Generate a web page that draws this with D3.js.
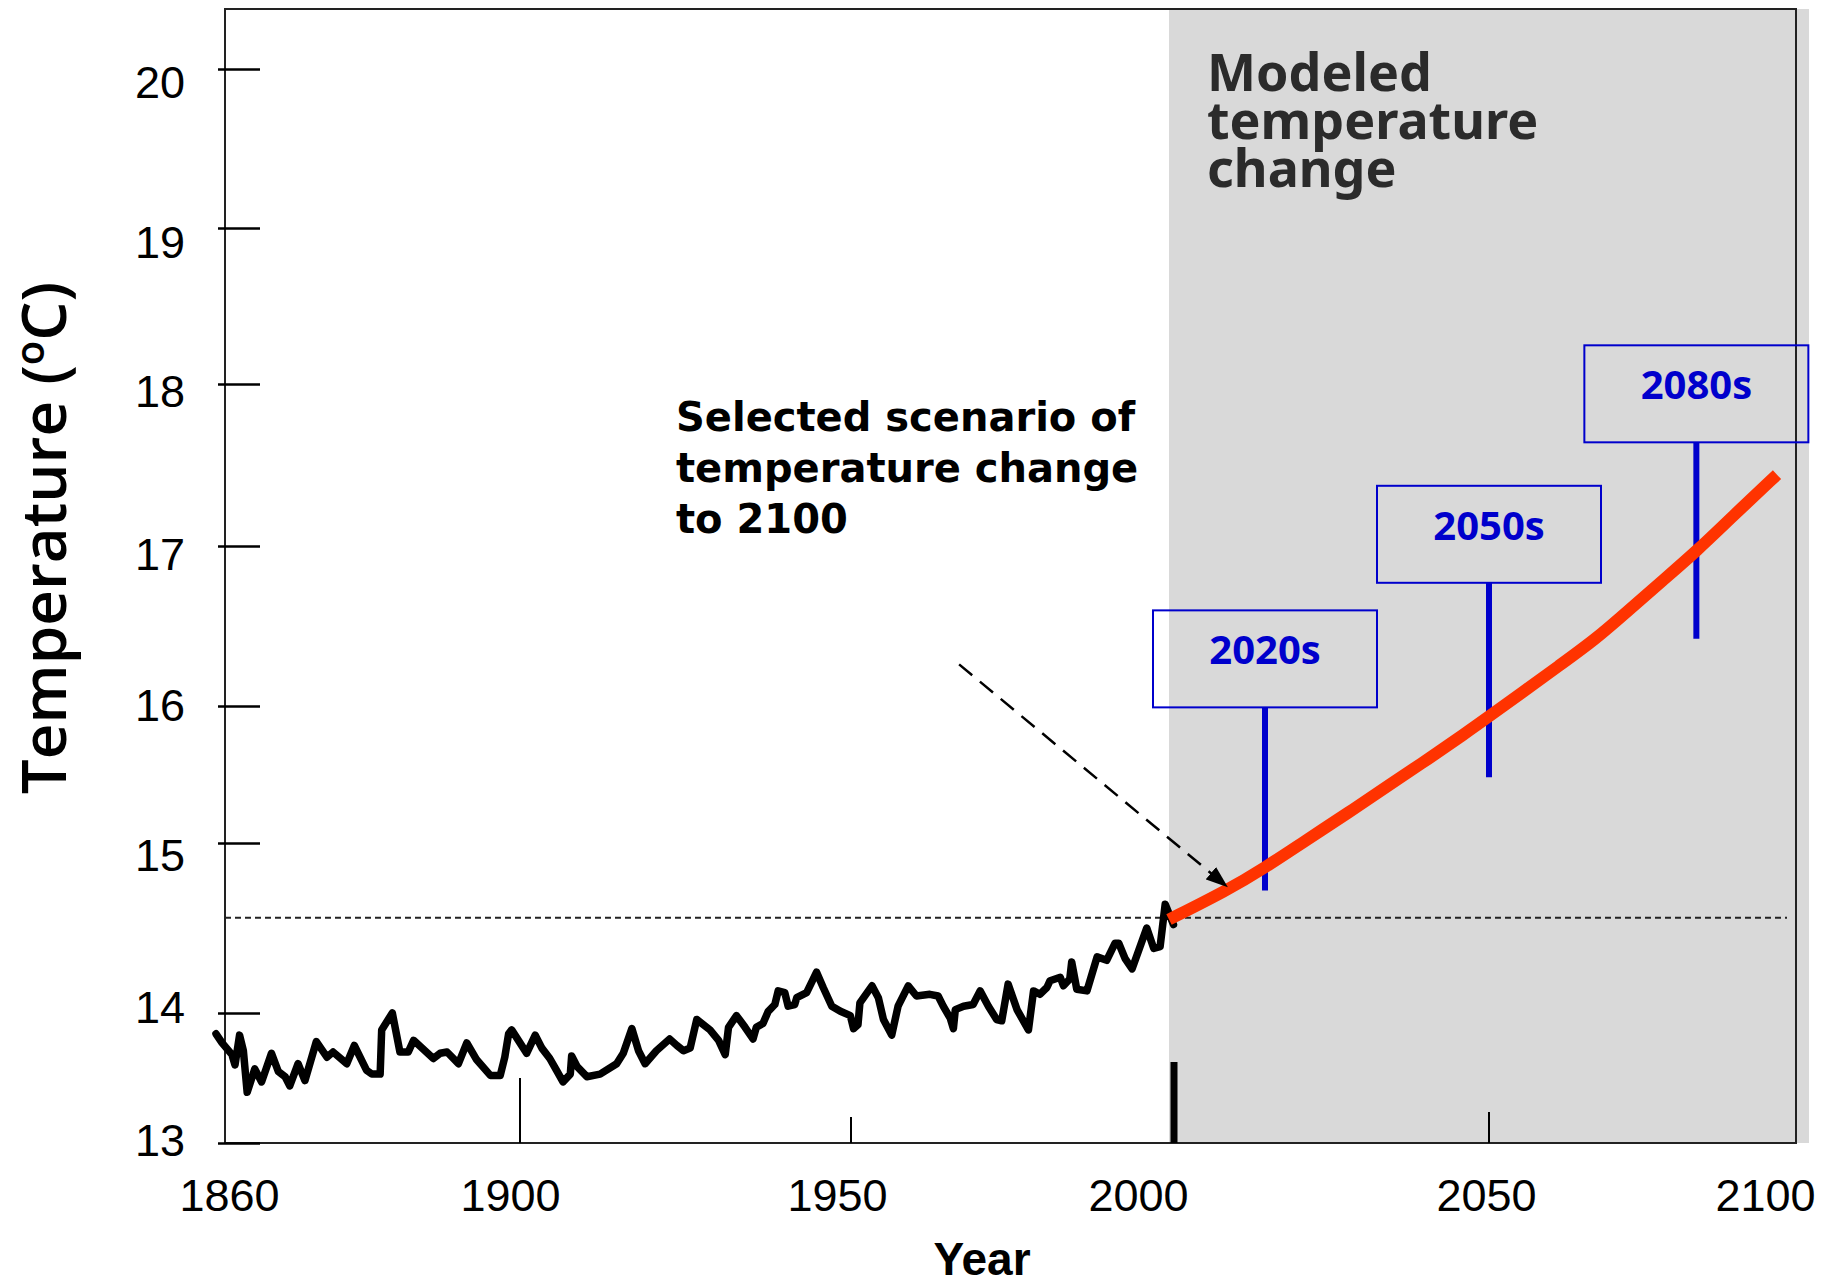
<!DOCTYPE html>
<html>
<head>
<meta charset="utf-8">
<script src="https://cdn.jsdelivr.net/npm/d3@7"></script>
<style>
body { margin: 0; background: #fff; }
svg { display: block; }
</style>
</head>
<body>
<svg width="1834" height="1287"></svg>
<script>
window.onload = function() {

var svg = d3.select("svg");

// observed global temperature, vertices of the drawn trace
var obsYears = [1860.0, 1860.8, 1862.1, 1862.5, 1863.1, 1863.6, 1864.1, 1865.1, 1866.0, 1867.3,
    1868.2, 1869.1, 1869.7, 1870.8, 1871.7, 1873.2, 1874.6, 1875.4, 1877.2, 1878.2,
    1879.8, 1880.5, 1881.6, 1881.8, 1883.2, 1884.2, 1885.3, 1886.0, 1888.6, 1889.5,
    1890.4, 1891.9, 1893.0, 1894.3, 1896.1, 1897.4, 1898.0, 1898.5, 1898.9, 1900.0,
    1901.0, 1902.3, 1903.3, 1904.5, 1905.5, 1906.5, 1907.6, 1907.8, 1908.6, 1910.1,
    1912.1, 1914.6, 1915.6, 1916.9, 1917.9, 1918.9, 1920.6, 1922.6, 1923.7, 1924.7,
    1925.7, 1926.7, 1928.7, 1930.0, 1931.0, 1931.5, 1932.7, 1934.0, 1935.2, 1935.7,
    1936.7, 1937.5, 1938.5, 1939.0, 1940.0, 1940.5, 1941.5, 1941.8, 1943.3, 1944.8,
    1945.8, 1947.1, 1948.4, 1949.9, 1950.4, 1951.1, 1951.4, 1953.3, 1954.3, 1955.1,
    1956.4, 1957.4, 1959.0, 1960.3, 1962.4, 1963.7, 1964.5, 1965.6, 1966.1, 1966.4,
    1967.7, 1969.2, 1970.3, 1971.6, 1972.9, 1973.7, 1974.7, 1976.1, 1977.9, 1978.7,
    1979.7, 1980.8, 1981.3, 1982.9, 1983.4, 1984.4, 1984.7, 1985.5, 1987.1, 1988.7,
    1990.2, 1991.5, 1992.1, 1993.1, 1994.2, 1996.5, 1997.6, 1998.6, 1999.4, 2000.7];
var obsTemps = [13.84, 13.77, 13.68, 13.60, 13.83, 13.71, 13.39, 13.57, 13.47, 13.69,
    13.55, 13.51, 13.44, 13.61, 13.48, 13.78, 13.66, 13.70, 13.61, 13.75,
    13.56, 13.53, 13.53, 13.87, 14.00, 13.70, 13.70, 13.79, 13.65, 13.69,
    13.70, 13.61, 13.77, 13.64, 13.52, 13.52, 13.66, 13.84, 13.87, 13.77,
    13.69, 13.83, 13.73, 13.65, 13.56, 13.47, 13.53, 13.67, 13.59, 13.51,
    13.53, 13.61, 13.69, 13.88, 13.71, 13.61, 13.71, 13.80, 13.75, 13.71,
    13.73, 13.95, 13.87, 13.79, 13.68, 13.89, 13.98, 13.89, 13.80, 13.89,
    13.92, 14.01, 14.05, 14.13, 14.12, 14.04, 14.05, 14.09, 14.12, 14.24,
    14.15, 14.04, 14.01, 13.98, 13.88, 13.91, 14.06, 14.16, 14.09, 13.95,
    13.83, 14.04, 14.16, 14.10, 14.11, 14.10, 14.04, 13.96, 13.88, 14.02,
    14.04, 14.05, 14.13, 14.04, 13.95, 13.94, 14.17, 14.02, 13.87, 14.13,
    14.11, 14.15, 14.19, 14.21, 14.16, 14.20, 14.30, 14.14, 14.13, 14.33,
    14.31, 14.41, 14.41, 14.32, 14.26, 14.50, 14.38, 14.39, 14.64, 14.52];

// selected scenario to 2100
var scenYears = [2000, 2009, 2014.8, 2021.4, 2028, 2034.6, 2040.4, 2046.3, 2049.9,
    2055.6, 2062.1, 2068.6, 2074.3, 2080, 2086.1, 2092.2, 2100];
var scenTemps = [14.55, 14.72, 14.85, 15.02, 15.22, 15.43, 15.61, 15.80, 15.92,
    16.08, 16.25, 16.42, 16.60, 16.78, 16.97, 17.18, 17.44];

// time slices
var periodLabels = ["2020s", "2050s", "2080s"];
var periodYears = [2015, 2050, 2086];
var periodLow = [14.72, 15.48, 16.42];
var periodHigh = [15.99, 16.77, 17.64];

var yTicks = [13, 14, 15, 16, 17, 18, 19, 20];
var xTicks = [1860, 1900, 1950, 2000, 2050, 2100];
var xMarks = [1900, 1950, 2000, 2050];
var baselineTemp = 14.56;
var modelStart = 2000;
var arrowFrom = [1967.0, 16.26];
var arrowTo = [2009.2, 14.74];

// layout
var frame = { left: 225, top: 9, right: 1796, bottom: 1143 };
var xMarkLen = { 1900: 65, 1950: 26, 2000: 81, 2050: 31 };
var xMarkWidth = { 1900: 2, 1950: 2, 2000: 7, 2050: 2 };
// the labels in the original sit a little off their ticks
var xLabelNudge = { 1860: 13, 1900: -10, 1950: -14, 2000: -31, 2050: -3, 2100: -12 };
var yLabelNudge = { 13: -2, 14: -5, 15: 13, 16: 0, 17: 9, 18: 8, 19: 15, 20: 14 };
var tickFont = "'Liberation Sans', Arial, sans-serif";
var blue = "#0000cc";
var red = "#ff3300";

// hand drawn axes are not evenly spaced, so use piecewise scales
var x = d3.scaleLinear().domain(xTicks).range([216, 520, 851, 1169, 1489, 1777]);
var y = d3.scaleLinear().domain(yTicks).range([1143, 1013, 843, 706, 546, 384, 228, 69]);

var line = d3.line()
    .x(function(d) { return x(d[0]); })
    .y(function(d) { return y(d[1]); });

svg.append("rect").attr("width", 1834).attr("height", 1287).attr("fill", "#fff");

// modelled period shading
svg.append("rect")
    .attr("x", x(modelStart))
    .attr("y", frame.top)
    .attr("width", 1809 - x(modelStart))
    .attr("height", frame.bottom - frame.top)
    .attr("fill", "#d9d9d9");

// frame
svg.append("rect")
    .attr("x", frame.left)
    .attr("y", frame.top)
    .attr("width", frame.right - frame.left)
    .attr("height", frame.bottom - frame.top)
    .attr("fill", "none")
    .attr("stroke", "#222")
    .attr("stroke-width", 2);

// y axis
var yAxis = d3.axisLeft(y).tickValues(yTicks).tickSizeInner(-35).tickSizeOuter(0)
    .tickPadding(40).tickFormat(d3.format("d"));
svg.append("g")
    .attr("transform", "translate(" + frame.left + ",0)")
    .call(yAxis)
    .call(function(g) { g.select(".domain").remove(); })
    .attr("font-size", 45)
    .attr("font-family", tickFont)
    .call(function(g) {
        g.selectAll(".tick line").attr("x1", -7).attr("stroke", "#000").attr("stroke-width", 2.5);
        g.selectAll(".tick text").attr("fill", "#000")
            .attr("y", function(d) { return yLabelNudge[d]; });
    });

// x axis labels
var xAxis = d3.axisBottom(x).tickValues(xTicks).tickSize(0).tickPadding(36).tickFormat(d3.format("d"));
svg.append("g")
    .attr("transform", "translate(0," + frame.bottom + ")")
    .call(xAxis)
    .call(function(g) { g.select(".domain").remove(); })
    .attr("font-size", 45)
    .attr("font-family", tickFont)
    .call(function(g) {
        g.selectAll(".tick text").attr("fill", "#000")
            .attr("dx", function(d) { return xLabelNudge[d]; });
    });

// x tick marks standing on the bottom edge
svg.append("g").selectAll("rect")
    .data(xMarks)
    .enter().append("rect")
    .attr("x", function(d) { return x(d) - xMarkWidth[d] / 2 + (d === modelStart ? 5 : 0); })
    .attr("y", function(d) { return frame.bottom - xMarkLen[d]; })
    .attr("width", function(d) { return xMarkWidth[d]; })
    .attr("height", function(d) { return xMarkLen[d]; })
    .attr("fill", "#000");

// baseline
svg.append("line")
    .attr("x1", frame.left)
    .attr("x2", 1787)
    .attr("y1", y(baselineTemp))
    .attr("y2", y(baselineTemp))
    .attr("stroke", "#222")
    .attr("stroke-width", 2)
    .attr("stroke-dasharray", "6,4");

// period boxes and stems
var idx = d3.range(periodLabels.length);
var boxW = 224, boxH = 97;
var periods = svg.append("g").selectAll("g")
    .data(idx)
    .enter().append("g");

periods.append("rect")
    .attr("x", function(i) { return x(periodYears[i]) - boxW / 2; })
    .attr("y", function(i) { return y(periodHigh[i]) - boxH; })
    .attr("width", boxW)
    .attr("height", boxH)
    .attr("fill", "none")
    .attr("stroke", blue)
    .attr("stroke-width", 2);

periods.append("line")
    .attr("x1", function(i) { return x(periodYears[i]); })
    .attr("x2", function(i) { return x(periodYears[i]); })
    .attr("y1", function(i) { return y(periodHigh[i]); })
    .attr("y2", function(i) { return y(periodLow[i]); })
    .attr("stroke", blue)
    .attr("stroke-width", 6);

periods.append("text")
    .attr("x", function(i) { return x(periodYears[i]); })
    .attr("y", function(i) { return y(periodHigh[i]) - boxH + 54; })
    .attr("text-anchor", "middle")
    .attr("font-family", "'Open Sans', sans-serif")
    .attr("font-weight", 700)
    .attr("font-size", 40)
    .attr("fill", blue)
    .text(function(i) { return periodLabels[i]; });

// observed record
svg.append("path")
    .datum(d3.zip(obsYears, obsTemps))
    .attr("fill", "none")
    .attr("stroke", "#000")
    .attr("stroke-width", 7.5)
    .attr("stroke-linejoin", "round")
    .attr("stroke-linecap", "round")
    .attr("d", line);

// scenario
svg.append("path")
    .datum(d3.zip(scenYears, scenTemps))
    .attr("fill", "none")
    .attr("stroke", red)
    .attr("stroke-width", 12)
    .attr("d", d3.line()
        .x(function(d) { return x(d[0]); })
        .y(function(d) { return y(d[1]); })
        .curve(d3.curveBasis));

// arrow
svg.append("defs").append("marker")
    .attr("id", "head")
    .attr("markerUnits", "userSpaceOnUse")
    .attr("markerWidth", 22)
    .attr("markerHeight", 16)
    .attr("refX", 22)
    .attr("refY", 8)
    .attr("orient", "auto")
    .append("path")
    .attr("d", "M0,0L22,8L0,16Z")
    .attr("fill", "#000");

svg.append("line")
    .attr("x1", x(arrowFrom[0]))
    .attr("y1", y(arrowFrom[1]))
    .attr("x2", x(arrowTo[0]))
    .attr("y2", y(arrowTo[1]))
    .attr("stroke", "#000")
    .attr("stroke-width", 2.5)
    .attr("stroke-dasharray", "17,10")
    .attr("marker-end", "url(#head)");

// annotations
function multiline(lines, x0, y0, step, attrs) {
    var t = svg.append("text");
    for (var k in attrs) t.attr(k, attrs[k]);
    lines.forEach(function(s, i) {
        t.append("tspan").attr("x", x0).attr("y", y0 + i * step).text(s);
    });
    return t;
}

multiline(["Selected scenario of", "temperature change", "to 2100"], 676, 431, 51, {
    "font-family": "'DejaVu Sans', sans-serif",
    "font-weight": "bold",
    "font-size": 40,
    "fill": "#000"
});

multiline(["Modeled", "temperature", "change"], 1207, 91, 48, {
    "font-family": "'Noto Sans', sans-serif",
    "font-weight": "bold",
    "font-size": 52,
    "fill": "#2b2b2b"
});

// axis titles
svg.append("text")
    .attr("x", 982)
    .attr("y", 1275)
    .attr("text-anchor", "middle")
    .attr("font-family", tickFont)
    .attr("font-weight", "bold")
    .attr("font-size", 46)
    .text("Year");

var yTitle = svg.append("text")
    .attr("transform", "translate(66,538) rotate(-90)")
    .attr("text-anchor", "middle")
    .attr("font-family", "'Open Sans', sans-serif")
    .attr("font-weight", 600)
    .attr("font-size", 62)
    .attr("fill", "#000");
yTitle.append("tspan").text("Temperature (");
yTitle.append("tspan").attr("font-size", 40).attr("dy", -22).text("o");
yTitle.append("tspan").attr("dy", 22).text("C)");

};
</script>
</body>
</html>
